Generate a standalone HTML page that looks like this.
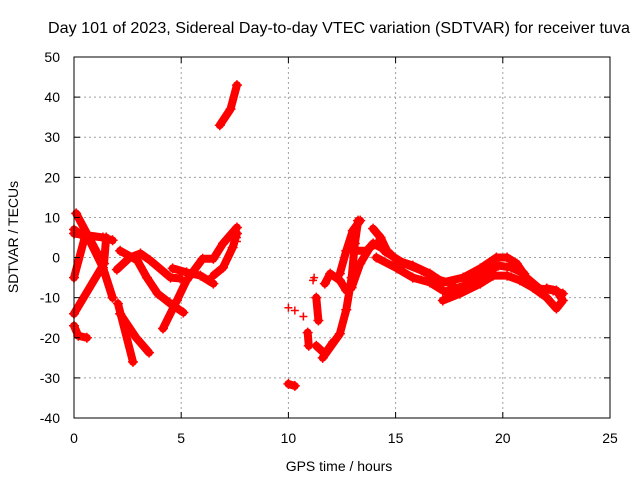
<!DOCTYPE html>
<html><head><meta charset="utf-8"><style>
body{margin:0;background:#fff;}
svg{display:block;font-family:"Liberation Sans",sans-serif;}
</style></head><body>
<svg id="chart" width="640" height="480">
<text x="339" y="33" text-anchor="middle" font-size="16" textLength="582" lengthAdjust="spacingAndGlyphs">Day 101 of 2023, Sidereal Day-to-day VTEC variation (SDTVAR) for receiver tuva</text>
<text x="339" y="471" text-anchor="middle" font-size="14">GPS time / hours</text>
<text transform="translate(18,237) rotate(-90)" text-anchor="middle" font-size="14">SDTVAR / TECUs</text>
<g id="grid"></g><g id="marks"></g><g id="axes"></g>
</svg>
<script>
const xTicks=[0,5,10,15,20,25];
const yTicks=[-40,-30,-20,-10,0,10,20,30,40,50];
const tracks=[
[[0,-5],[0.5,5]],
[[0,-14],[1.4,-1.5],[1.5,5]],
[[0.1,11],[1.2,0],[1.8,-10]],
[[0,7],[0.75,4],[1.35,-2.5],[1.8,-10]],
[[0,6],[1.35,5],[1.8,4.3]],
[[0,-17],[0.2,-19.5],[0.6,-20]],
[[2.05,-11.5],[2.75,-26]],
[[2.15,-14],[2.9,-20],[3.5,-23.7]],
[[2,-3],[2.6,0],[3.1,1],[3.55,-0.7],[4.5,-5],[4.95,-5.2]],
[[2.15,1.7],[2.95,-0.7],[3.4,-5],[3.9,-9],[4.5,-11.5],[5.1,-13.7]],
[[4.15,-17.7],[4.8,-10.7],[5.25,-5.7],[6,-0.3],[6.5,-0.3],[6.95,3.5],[7.6,7.5]],
[[4.6,-2.7],[5.25,-3.7],[5.9,-4.5],[6.5,-6.5]],
[[6.5,-4.5],[6.95,-2.5],[7.4,2.5],[7.6,6]],
[[6.8,33],[7.3,37],[7.6,43]],
[[10,-31.5],[10.3,-32]],
[[11.3,-10],[11.4,-15.7]],
[[10.9,-18.7],[10.95,-22]],
[[11.3,-22],[11.7,-24],[12.1,-21]],
[[11.6,-25],[12.4,-19],[12.7,-13],[12.95,-5],[13.1,3.5],[13.25,9.2]],
[[12.4,-4],[12.7,1.7],[13,6.7],[13.35,9.2]],
[[11.7,-6.5],[11.95,-4],[12.4,-5.7],[12.7,-8.2],[12.95,-7.5],[13.35,-1.5],[13.8,2.5],[14.1,3.5]],
[[13,1.7],[13.65,1.7],[13.95,3.5],[14.3,2.5]],
[[13.95,7.2],[14.3,5],[14.6,1.7],[15.07,-0.7],[15.8,-2],[16.6,-4],[17.2,-6.2],[18.15,-5],[18.95,-2.7],[19.7,0],[20.2,0],[20.65,-1.5],[21.1,-5],[21.7,-7.7],[22.35,-8.2],[22.8,-9]],
[[14.1,0],[15.07,-2.7],[15.8,-5],[16.6,-6.2],[17.2,-8.2]],
[[14.5,1.5],[15.4,-1.5],[16.2,-3.2],[17,-5.5],[17.6,-6.5]],
[[17.2,-10.7],[18,-9],[18.95,-6.5],[19.55,-4.5],[20.2,-4.5],[20.8,-5.7],[21.4,-7.5],[22.05,-10],[22.5,-12.7],[22.8,-10.7],[22.5,-8.2],[22.05,-7.7]],
[[17.3,-8.5],[18.2,-7],[19,-4.5],[19.8,-2],[20.4,-2.5],[21,-4]]
];
const singles=[[10,-12.5],[10.3,-13.2],[10.7,-14.7],[11.15,-5.7],[11.2,-5],[7.6,4],[7.6,5]];
const X0=74,X1=610,Y0=418,Y1=57,xMin=0,xMax=25,yMin=-40,yMax=50;
const sx=v=>X0+(v-xMin)/(xMax-xMin)*(X1-X0);
const sy=v=>Y0-(v-yMin)/(yMax-yMin)*(Y0-Y1);
const NS='http://www.w3.org/2000/svg';
function mk(t,p,a){const e=document.createElementNS(NS,t);for(const k in a)e.setAttribute(k,a[k]);p.appendChild(e);return e;}
const grid=document.getElementById('grid'),marks=document.getElementById('marks'),axes=document.getElementById('axes');
xTicks.forEach(t=>{const x=sx(t);
 if(t>xMin&&t<xMax){const g=mk('line',grid,{x1:x,x2:x,y1:Y1,y2:Y0,stroke:'#a0a0a0','stroke-dasharray':'2,3'});}
 mk('line',axes,{x1:x,x2:x,y1:Y0,y2:Y0-6,stroke:'#000'});mk('line',axes,{x1:x,x2:x,y1:Y1,y2:Y1+6,stroke:'#000'});
 const l=mk('text',axes,{x:x,y:Y0+25,'text-anchor':'middle','font-size':'14'});l.textContent=t;
 });
yTicks.forEach(t=>{const y=sy(t);
 if(t>yMin&&t<yMax){const g=mk('line',grid,{x1:X0,x2:X1,y1:y,y2:y,stroke:'#a0a0a0','stroke-dasharray':'2,3'});}
 mk('line',axes,{x1:X0,x2:X0+6,y1:y,y2:y,stroke:'#000'});mk('line',axes,{x1:X1,x2:X1-6,y1:y,y2:y,stroke:'#000'});
 const l=mk('text',axes,{x:X0-14,y:y+5,'text-anchor':'end','font-size':'14'});l.textContent=t;
 });
const fr=mk('rect',axes,{x:X0,y:Y1,width:X1-X0,height:Y0-Y1,fill:'none',stroke:'#000'});

function plus(x,y,s){mk('path',marks,{d:`M${x-s},${y}H${x+s}M${x},${y-s}V${y+s}`,stroke:'#f00','stroke-width':1.5});}
tracks.forEach(tr=>{
 const p=mk('polyline',marks,{points:tr.map(d=>sx(d[0])+','+sy(d[1])).join(' '),fill:'none',stroke:'#f00','stroke-width':8,'stroke-linejoin':'round','stroke-linecap':'round'});
 
 tr.forEach(d=>plus(sx(d[0]),sy(d[1]),5));});
singles.forEach(d=>plus(sx(d[0]),sy(d[1]),4));
</script>
</body></html>
